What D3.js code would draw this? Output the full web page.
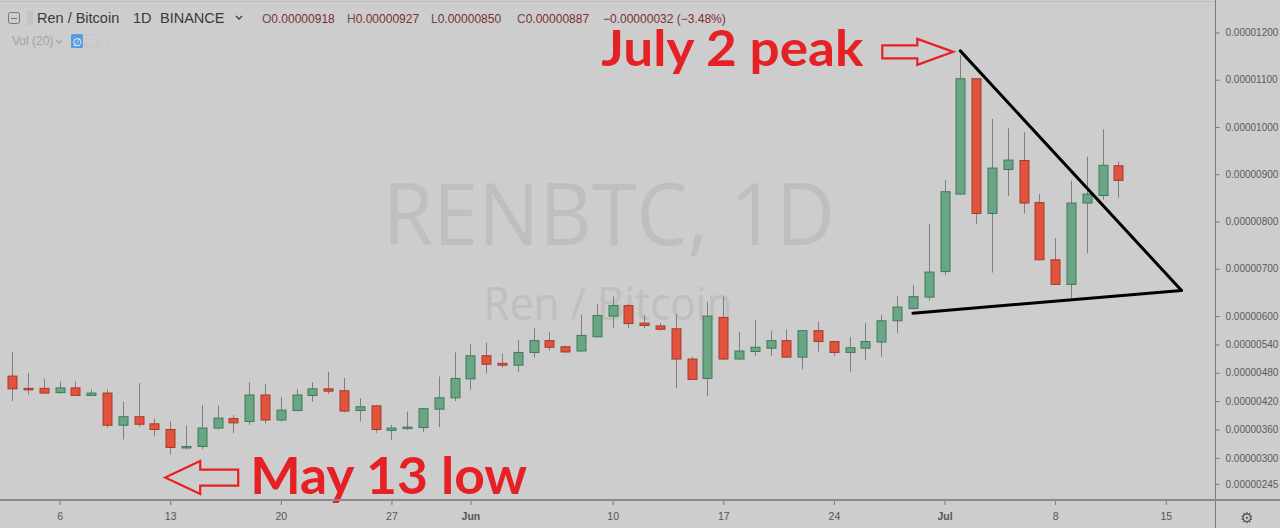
<!DOCTYPE html>
<html><head><meta charset="utf-8">
<script src="https://cdn.jsdelivr.net/npm/d3@7/dist/d3.min.js"></script>
<style>html,body{margin:0;padding:0;background:#cdcdcd;overflow:hidden}svg{display:block}</style>
</head><body><svg id="c" width="1280" height="528"></svg>
<script>
// ---- data (prices in satoshi, 1 sat = 0.00000001 BTC) ----
const dates = [
 "2019-05-03","2019-05-04","2019-05-05","2019-05-06","2019-05-07","2019-05-08","2019-05-09","2019-05-10","2019-05-11","2019-05-12",
 "2019-05-13","2019-05-14","2019-05-15","2019-05-16","2019-05-17","2019-05-18","2019-05-19","2019-05-20","2019-05-21","2019-05-22",
 "2019-05-23","2019-05-24","2019-05-25","2019-05-26","2019-05-27","2019-05-28","2019-05-29","2019-05-30","2019-05-31","2019-06-01",
 "2019-06-02","2019-06-03","2019-06-04","2019-06-05","2019-06-06","2019-06-07","2019-06-08","2019-06-09","2019-06-10","2019-06-11",
 "2019-06-12","2019-06-13","2019-06-14","2019-06-15","2019-06-16","2019-06-17","2019-06-18","2019-06-19","2019-06-20","2019-06-21",
 "2019-06-22","2019-06-23","2019-06-24","2019-06-25","2019-06-26","2019-06-27","2019-06-28","2019-06-29","2019-06-30","2019-07-01",
 "2019-07-02","2019-07-03","2019-07-04","2019-07-05","2019-07-06","2019-07-07","2019-07-08","2019-07-09","2019-07-10","2019-07-11",
 "2019-07-12"];
const opens  = [473,447,447,438,448,432,437,369,387,372, 360,321,324,363,383,377,433,380,400,432, 446,442,400,410,358,362,364,403,427,467,
                516,500,496,523,548,535,526,556,600,622, 585,579,573,509,468,597,509,525,532,548, 513,569,546,523,532,545,590,616,640,694,
                858,1102,817,910,929,840,719,667,839,855, 918];
const highs  = [524,480,468,461,461,445,445,419,458,383, 377,369,412,410,390,460,456,429,446,460, 482,469,426,412,370,398,405,472,523,540,
                544,521,549,574,566,537,602,625,642,625, 602,585,604,514,630,641,566,592,569,572, 570,588,547,556,585,602,642,666,795,888,
                1152,1102,1017,997,989,858,765,886,937,995, 927];
const lows   = [420,434,436,435,431,431,363,339,366,345, 307,318,318,360,352,370,373,377,399,419, 435,396,377,353,338,359,355,365,420,444,
                479,491,482,512,527,523,525,556,574,574, 574,569,447,465,431,508,508,516,516,512, 487,525,516,482,507,514,564,614,633,687,
                857,795,692,854,817,718,666,638,733,846, 850];
const closes = [446,445,437,448,432,437,369,387,371,360, 322,324,363,384,374,433,380,401,433,446, 441,399,408,360,363,365,404,427,468,516,
                498,496,523,548,534,524,559,601,622,584, 580,572,509,466,600,509,526,534,548,513, 569,546,523,533,546,590,619,641,693,863,
                1102,817,913,930,839,719,667,839,858,919, 887];
const yTicks = [1200,1100,1000,900,800,700,600,540,480,420,360,300,245];
const xTickDates  = ["2019-05-06","2019-05-13","2019-05-20","2019-05-27","2019-06-01","2019-06-10","2019-06-17","2019-06-24","2019-07-01","2019-07-08","2019-07-15"];
const xTickLabels = ["6","13","20","27","Jun","10","17","24","Jul","8","15"];
// triangle trendlines (date, price)
const trendUpper = [["2019-07-02",1161],["2019-07-16",654]];
const trendLower = [["2019-06-29",606],["2019-07-16",654]];
const annotations = [
  {text:"July 2 peak", date:"2019-07-02", price:1161, dir:"right"},
  {text:"May 13 low",  date:"2019-05-13", price:307,  dir:"left"}
];
const header = {symbol:"Ren / Bitcoin", tf:"1D", exch:"BINANCE", o:918, h:927, l:850, c:887, chg:-32, pct:-3.48};

// ---- layout ----
const W = 1280, H = 528, plotR = 1215, plotB = 500;
const parse = d3.utcParse("%Y-%m-%d");
const svg = d3.select("#c");
const x = d3.scaleUtc().domain([parse("2019-05-06"), parse("2019-07-01")]).range([59.6, 944.5]);
const y = d3.scaleLinear().domain([210.8, 1268.6]).range([plotB, 0]);
const fmt = v => (v * 1e-8).toFixed(8);
const FONT = "Liberation Sans, Arial, sans-serif";

svg.append("rect").attr("width", W).attr("height", H).attr("fill", "#cdcdcd");

// watermark
svg.append("text").attr("x", 609).attr("y", 245).attr("text-anchor", "middle")
  .attr("font-family", "Open Sans, sans-serif").attr("font-size", 86).attr("fill", "#bfbfbf")
  .attr("textLength", 452).attr("lengthAdjust", "spacingAndGlyphs").text("RENBTC, 1D");
svg.append("text").attr("x", 608).attr("y", 320).attr("text-anchor", "middle")
  .attr("font-family", "Open Sans, sans-serif").attr("font-size", 45).attr("fill", "#bfbfbf")
  .attr("textLength", 249).attr("lengthAdjust", "spacingAndGlyphs").text("Ren / Bitcoin");

// candles
const candles = dates.map((d, i) => ({d: parse(d), o: opens[i], h: highs[i], l: lows[i], c: closes[i]}));
const cg = svg.append("g").selectAll("g").data(candles).join("g");
cg.append("line")
  .attr("x1", d => Math.round(x(d.d)) + 0.5).attr("x2", d => Math.round(x(d.d)) + 0.5)
  .attr("y1", d => y(d.h)).attr("y2", d => y(d.l))
  .attr("stroke", "#7f7f7f").attr("stroke-width", 1);
cg.append("rect")
  .attr("x", d => Math.round(x(d.d)) - 4)
  .attr("width", 9)
  .attr("y", d => y(Math.max(d.o, d.c)))
  .attr("height", d => Math.max(1.5, Math.abs(y(d.o) - y(d.c))))
  .attr("fill", d => d.c >= d.o ? "#6aa683" : "#e1533c")
  .attr("stroke", d => d.c >= d.o ? "#3f7b5b" : "#a83a2a")
  .attr("stroke-width", 1);

// trendlines
const tl = d3.line().x(p => x(parse(p[0]))).y(p => y(p[1]));
[trendUpper, trendLower].forEach(t => svg.append("path").attr("d", tl(t))
  .attr("fill", "none").attr("stroke", "#000").attr("stroke-width", 3).attr("stroke-linecap", "round"));

// annotations: hollow arrows + text
function arrowPath(tx, ty, dir, total, shaftH, headH, headL) {
  const s = dir === "right" ? -1 : 1;
  const hb = tx + s * headL, end = tx + s * total;
  return `M${tx},${ty} L${hb},${ty - headH} L${hb},${ty - shaftH} L${end},${ty - shaftH} L${end},${ty + shaftH} L${hb},${ty + shaftH} L${hb},${ty + headH} Z`;
}
annotations.forEach(a => {
  const ax = x(parse(a.date));
  if (a.dir === "right") {
    const tx = ax - 7, ty = y(a.price) + 1;
    svg.append("path").attr("d", arrowPath(tx, ty, "right", 71, 6.5, 13, 36))
      .attr("fill", "none").attr("stroke", "#e62125").attr("stroke-width", 2.2).attr("stroke-linejoin", "miter");
    svg.append("text").attr("x", tx - 352).attr("y", 66)
      .attr("font-family", "Lato, sans-serif").attr("font-weight", 700).attr("font-size", 50)
      .attr("fill", "#e62125").attr("textLength", 262).attr("lengthAdjust", "spacingAndGlyphs").text(a.text);
  } else {
    const tx = ax - 5, ty = y(a.price) + 23;
    svg.append("path").attr("d", arrowPath(tx, ty, "left", 73, 8, 16.5, 35))
      .attr("fill", "none").attr("stroke", "#e62125").attr("stroke-width", 2.2).attr("stroke-linejoin", "miter");
    svg.append("text").attr("x", tx + 85).attr("y", 494)
      .attr("font-family", "Lato, sans-serif").attr("font-weight", 700).attr("font-size", 51)
      .attr("fill", "#e62125").attr("textLength", 277).attr("lengthAdjust", "spacingAndGlyphs").text(a.text);
  }
});

// right axis
svg.append("line").attr("x1", plotR + 0.5).attr("x2", plotR + 0.5).attr("y1", 0).attr("y2", H)
  .attr("stroke", "#7a7a7a").attr("stroke-width", 1);
const ya = svg.append("g").attr("transform", `translate(${plotR + 0.5},0)`)
  .call(d3.axisRight(y).tickValues(yTicks).tickSize(4).tickPadding(6).tickFormat(fmt));
ya.select(".domain").remove();
ya.selectAll(".tick line").attr("stroke", "#7a7a7a");
ya.selectAll(".tick text").attr("fill", "#5a5a5a").attr("font-family", FONT).attr("font-size", 10);

// bottom axis
svg.append("rect").attr("x", 0).attr("y", plotB - 1).attr("width", W).attr("height", 2).attr("fill", "#8a8a8a");
const xa = svg.append("g").attr("transform", `translate(0,${plotB + 1})`)
  .call(d3.axisBottom(x).tickValues(xTickDates.map(parse)).tickSize(4).tickPadding(8)
    .tickFormat((d, i) => xTickLabels[i]));
xa.select(".domain").remove();
xa.selectAll(".tick line").attr("stroke", "#7a7a7a");
xa.selectAll(".tick text").attr("fill", "#555").attr("font-family", FONT).attr("font-size", 10.5)
  .attr("font-weight", (d, i) => /[A-Za-z]/.test(xTickLabels[i]) ? 700 : 400);

// gear icon
svg.append("text").attr("x", 1247).attr("y", 523).attr("text-anchor", "middle")
  .attr("font-family", "DejaVu Sans").attr("font-size", 15).attr("fill", "#555").text("\u2699");

// top border line
svg.append("line").attr("x1", 0).attr("x2", plotR).attr("y1", 1.5).attr("y2", 1.5).attr("stroke", "#bdbdbd");

// header legend
svg.append("rect").attr("x", 8.5).attr("y", 12.5).attr("width", 11).attr("height", 11).attr("rx", 2)
  .attr("fill", "none").attr("stroke", "#777");
svg.append("line").attr("x1", 11).attr("x2", 17).attr("y1", 18.5).attr("y2", 18.5).attr("stroke", "#777");
svg.append("rect").attr("x", 27).attr("y", 11).attr("width", 6).attr("height", 14).attr("fill", "#c3c3c3");
[[header.symbol, 37], [header.tf, 133], [header.exch, 160]].forEach(([t, px]) =>
  svg.append("text").attr("x", px).attr("y", 23).attr("font-family", FONT).attr("font-size", 14.5)
    .attr("fill", "#3a3a3a").text(t));
svg.append("path").attr("d", "M236,16 l3,3 l3,-3").attr("fill", "none").attr("stroke", "#3a3a3a").attr("stroke-width", 1.3);
[["O", header.o, 262], ["H", header.h, 347], ["L", header.l, 431], ["C", header.c, 517]].forEach(([k, v, px]) => {
  const t = svg.append("text").attr("x", px).attr("y", 23).attr("font-family", FONT).attr("font-size", 12);
  t.append("tspan").attr("fill", "#6e5050").text(k);
  t.append("tspan").attr("fill", "#7b2f2f").text(fmt(v));
});
svg.append("text").attr("x", 603).attr("y", 23).attr("font-family", FONT).attr("font-size", 12).attr("fill", "#7b2f2f")
  .text(`\u2212${fmt(Math.abs(header.chg))} (\u2212${Math.abs(header.pct)}%)`);

svg.append("text").attr("x", 12).attr("y", 45).attr("font-family", FONT)
  .attr("font-size", 12).attr("fill", "#a3a3a3").text("Vol (20)");
svg.append("path").attr("d", "M56,40 l3,3 l3,-3").attr("fill", "none").attr("stroke", "#a3a3a3").attr("stroke-width", 1.1);
svg.append("rect").attr("x", 71).attr("y", 34).attr("width", 12).attr("height", 14).attr("rx", 1.5).attr("fill", "#5a9be0");
svg.append("text").attr("x", 77).attr("y", 45.5).attr("text-anchor", "middle").attr("font-family", "DejaVu Sans")
  .attr("font-size", 11).attr("fill", "#fff").text("\u2205");
svg.append("rect").attr("x", 86).attr("y", 35).attr("width", 10).attr("height", 12).attr("fill", "none").attr("stroke", "#c6c6c6");
svg.append("rect").attr("x", 99).attr("y", 35).attr("width", 10).attr("height", 12).attr("fill", "none").attr("stroke", "#c6c6c6");
</script></body></html>
